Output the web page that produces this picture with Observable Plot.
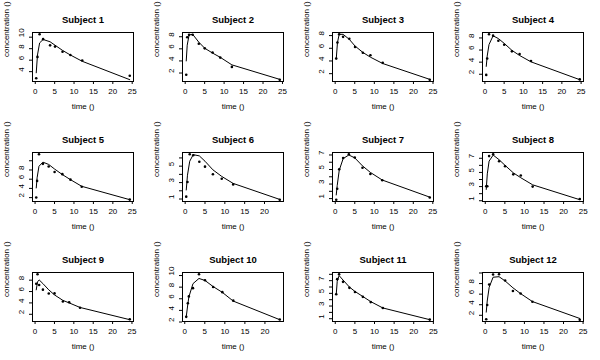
<!DOCTYPE html>
<html><head><meta charset="utf-8">
<script src="https://cdn.jsdelivr.net/npm/d3@7"></script>
<script src="https://cdn.jsdelivr.net/npm/@observablehq/plot@0.6"></script>
<style>
body{margin:0;background:#fff;color:#000;}
#wrap{position:relative;width:600px;height:360px;background:#fff;}
.panel{position:absolute;width:150px;height:120px;}
</style></head><body><div id="wrap"></div>
<script>
const subjects = ["Subject 1","Subject 2","Subject 3","Subject 4","Subject 5","Subject 6","Subject 7","Subject 8","Subject 9","Subject 10","Subject 11","Subject 12"];
const times = [
  [0.25,0.57,1.12,2.02,3.82,5.10,7.03,9.05,12.12,24.37],
  [0.27,0.52,1.00,1.92,3.50,5.02,7.03,9.00,12.00,24.30],
  [0.27,0.58,1.02,2.02,3.62,5.08,7.07,9.00,12.15,24.17],
  [0.35,0.60,1.07,2.13,3.50,5.02,7.02,9.02,11.98,24.65],
  [0.30,0.52,1.00,2.02,3.50,5.02,7.02,9.10,12.00,24.35],
  [0.27,0.58,1.15,2.03,3.57,5.00,7.00,9.22,12.10,23.85],
  [0.25,0.50,1.02,2.02,3.48,5.00,6.98,9.00,12.05,24.22],
  [0.25,0.52,0.98,2.02,3.53,5.05,7.15,9.07,12.10,24.12],
  [0.30,0.63,1.05,2.02,3.53,5.02,7.17,8.80,11.60,24.43],
  [0.37,0.77,1.02,2.05,3.55,5.05,7.08,9.38,12.10,23.70],
  [0.25,0.50,0.98,1.98,3.60,5.02,7.03,9.03,12.12,24.08],
  [0.25,0.50,1.00,2.00,3.52,5.07,7.07,9.03,12.05,24.15]
];
const conc = [
  [2.84,6.57,10.50,9.66,8.58,8.36,7.47,6.89,5.94,3.28],
  [1.72,7.91,8.31,8.33,6.85,6.08,5.40,4.55,3.01,0.90],
  [4.40,6.90,8.20,7.80,7.50,6.20,5.30,4.90,3.70,1.05],
  [1.89,4.60,8.60,8.38,7.54,6.88,5.78,5.33,4.19,1.15],
  [2.02,5.63,11.40,9.33,8.74,7.56,7.09,5.90,4.37,1.57],
  [1.29,3.08,6.44,6.32,5.53,4.94,4.02,3.46,2.78,0.92],
  [0.85,2.35,5.02,6.58,7.09,6.66,5.25,4.39,3.53,1.15],
  [3.05,3.05,7.31,7.56,6.59,5.88,4.73,4.57,3.00,1.25],
  [7.37,9.03,7.14,6.33,5.66,5.67,4.24,4.11,3.16,1.12],
  [2.89,5.22,6.41,7.83,10.21,9.18,8.02,7.14,5.68,2.42],
  [4.86,7.24,8.00,6.81,5.87,5.22,4.45,3.62,2.69,0.86],
  [1.25,3.96,7.82,9.72,9.75,8.57,6.59,6.11,4.57,1.17]
];
const fitted = [
  [3.8,6.9,9.0,9.6,9.2,8.6,7.7,6.9,5.8,2.6],
  [4.0,6.6,8.3,8.4,7.1,6.1,5.3,4.6,3.35,0.95],
  [4.3,6.9,8.2,8.2,7.4,6.35,5.35,4.6,3.6,1.1],
  [3.3,5.0,6.9,8.35,7.9,7.1,5.95,5.1,4.05,1.1],
  [4.1,6.3,8.8,9.7,9.2,8.2,7.0,5.9,4.45,1.55],
  [2.1,3.9,5.6,6.4,6.25,5.6,4.55,3.75,2.9,0.95],
  [1.5,2.8,4.9,6.5,7.0,6.6,5.5,4.6,3.55,1.2],
  [2.6,4.8,6.6,7.45,6.8,6.0,4.95,4.25,3.25,1.15],
  [6.3,7.7,8.05,7.4,6.3,5.4,4.45,4.0,3.2,1.05],
  [2.9,5.1,6.3,8.6,9.5,9.15,8.1,7.1,5.6,2.4],
  [4.85,6.9,7.8,7.1,6.0,5.3,4.5,3.7,2.7,0.85],
  [2.6,4.7,7.3,9.2,9.3,8.5,7.2,6.1,4.6,1.4]
];
const xTicks = [
  [0,5,10,15,20,25],[0,5,10,15,20,25],[0,5,10,15,20,25],[0,5,10,15,20,25],
  [0,5,10,15,20,25],[0,5,10,15,20],[0,5,10,15,20,25],[0,5,10,15,20,25],
  [0,5,10,15,20,25],[0,5,10,15,20],[0,5,10,15,20,25],[0,5,10,15,20,25]
];
const yTicks = [
  [4,6,8,10],[2,4,6,8],[2,4,6,8],[2,4,6,8],
  [2,4,6,8,10],[1,2,3,4,5,6],[1,2,3,4,5,6,7],[1,2,3,4,5,6,7],
  [2,4,6,8],[2,4,6,8,10],[1,2,3,4,5,6,7,8],[2,4,6,8,10]
];
const yLabels = [
  ["4","6","8","10"],["2","4","6","8"],["2","4","6","8"],["2","4","6","8"],
  ["2","4","6","8",""],["1","","3","","5",""],["1","","3","","5","","7"],["1","","3","","5","","7"],
  ["2","4","6","8"],["2","4","6","8","10"],["1","","3","","5","","7",""],["2","4","6","8",""]
];
const xLabel = "time ()";
const yLabel = "concentration ()";

const wrap = document.getElementById("wrap");
subjects.forEach((name, i) => {
  const t = times[i], c = conc[i], f = fitted[i];
  const xe = d3.extent(t), xr = xe[1] - xe[0];
  const ye = d3.extent(c.concat(f)), yr = ye[1] - ye[0];
  const obs = t.map((x, j) => ({time: x, conc: c[j]}));
  const fit = t.map((x, j) => ({time: x, conc: f[j]}));
  const yt = yTicks[i].map((v, k) => ({v, s: yLabels[i][k]}));
  const plot = Plot.plot({
    width: 150, height: 120,
    marginLeft: 32, marginRight: 17, marginTop: 32, marginBottom: 39,
    style: {fontFamily: "'Liberation Sans', Arial, sans-serif", fontSize: "8px", background: "white", overflow: "visible", color: "black"},
    x: {domain: [xe[0] - 0.04 * xr, xe[1] + 0.04 * xr]},
    y: {domain: [ye[0] - 0.04 * yr, ye[1] + 0.04 * yr]},
    marks: [
      Plot.axisX({ticks: xTicks[i], tickSize: 3, tickPadding: 4, label: null, tickFormat: d => String(d)}),
      Plot.axisY({ticks: yTicks[i], tickSize: 3, tickFormat: () => "", label: null}),
      Plot.text(yt, {y: "v", text: "s", frameAnchor: "left", dx: -11, rotate: -90}),
      Plot.frame({stroke: "black"}),
      Plot.line(fit, {x: "time", y: "conc", stroke: "black", strokeWidth: 1}),
      Plot.dot(obs, {x: "time", y: "conc", r: 1.3, fill: "black"}),
      Plot.text([name], {text: d => d, frameAnchor: "top", dy: -16, fontWeight: "bold", fontSize: 9.5}),
      Plot.text([xLabel], {text: d => d, frameAnchor: "bottom", dy: 27}),
      Plot.text([yLabel], {text: d => d, frameAnchor: "left", dx: -26, rotate: -90})
    ]
  });
  const div = document.createElement("div");
  div.className = "panel";
  div.style.left = (i % 4) * 150 + "px";
  div.style.top = Math.floor(i / 4) * 120 + "px";
  div.appendChild(plot);
  wrap.appendChild(div);
});
</script></body></html>
